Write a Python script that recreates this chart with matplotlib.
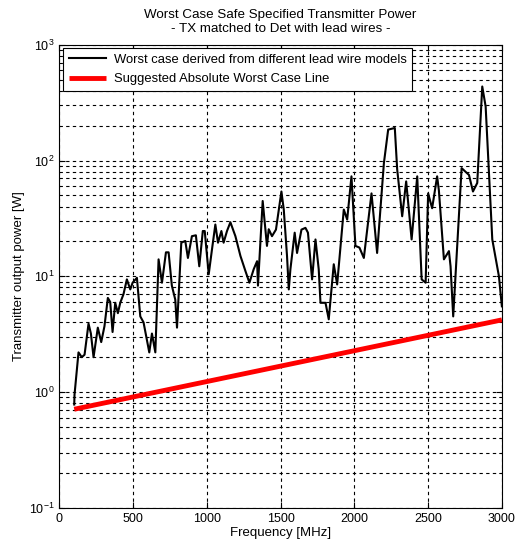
import matplotlib
matplotlib.use("Agg")
import matplotlib.pyplot as plt
from matplotlib.ticker import LogLocator, NullFormatter, MultipleLocator

plt.rcParams['font.family'] = ['Liberation Sans', 'DejaVu Sans']

# worst case envelope
freq = [100, 102, 129, 151, 170, 197, 213, 231, 260, 283, 305, 328, 344, 360, 378,
        396, 412, 434, 457, 480, 496, 525, 548, 570, 609, 627, 650, 672, 695, 722,
        740, 762, 785, 797, 826, 853, 871, 898, 925, 948, 972, 985, 1012, 1034, 1057,
        1075, 1098, 1113, 1136, 1159, 1193, 1227, 1261, 1288, 1317, 1340, 1346, 1378,
        1407, 1419, 1441, 1468, 1505, 1521, 1543, 1555, 1566, 1595, 1611, 1641, 1668,
        1685, 1713, 1736, 1758, 1770, 1804, 1826, 1860, 1883, 1928, 1951, 1980, 2007,
        2034, 2064, 2116, 2154, 2200, 2229, 2274, 2290, 2324, 2351, 2388, 2426, 2456,
        2483, 2500, 2527, 2561, 2573, 2607, 2641, 2652, 2670, 2727, 2777, 2804, 2833,
        2867, 2890, 2935, 2980, 3000]
power = [0.78, 0.95, 2.2, 2.0, 2.1, 3.9, 3.2, 2.0, 3.6, 2.7, 3.7, 6.5, 6.0, 3.3, 5.9,
         4.8, 5.9, 7.0, 9.4, 7.7, 8.8, 9.7, 4.5, 4.0, 2.2, 3.2, 2.2, 14.0, 8.8, 16.1,
         16.1, 8.3, 6.3, 3.6, 19.5, 20.2, 14.4, 22.2, 22.6, 12.2, 24.6, 24.6, 10.4, 17.0, 28.0,
         19.5, 24.6, 19.5, 24.6, 29.3, 22.2, 15.0, 11.1, 8.8, 11.5, 13.5, 8.3, 44.7,
         18.3, 25.5, 22.2, 25.3, 54.0, 37.7, 15.0, 7.7, 11.5, 23.8, 15.9, 25.3, 26.2,
         23.8, 9.4, 20.8, 11.5, 5.9, 5.9, 4.25, 12.7, 8.5, 37.7, 30.9, 73.0, 18.3,
         17.7, 14.4, 52.0, 15.9, 95.0, 185.0, 191.0, 84.0, 33.0, 66.0, 20.8, 73.0, 9.4,
         8.8, 52.0, 38.7, 73.0, 55.0, 14.0, 16.5, 12.2, 4.5, 86.0, 75.0, 54.0, 64.0,
         436.0, 293.0, 20.8, 10.0, 5.5]

# suggested absolute worst case line
line_freq = [100, 3000]
line_power = [0.71, 4.2]

fig = plt.figure(figsize=(5.15, 5.46), dpi=100)
ax = fig.add_axes([0.1155, 0.070, 0.859, 0.848])

ax.semilogy(freq, power, color='black', lw=1.5,
            label='Worst case derived from different lead wire models')
ax.semilogy(line_freq, line_power, color='red', lw=3.5, solid_capstyle='butt',
            label='Suggested Absolute Worst Case Line')

ax.set_xlim(0, 3000)
ax.set_ylim(1e-1, 1e3)
ax.xaxis.set_major_locator(MultipleLocator(500))
ax.yaxis.set_major_locator(LogLocator(base=10, numticks=10))
ax.yaxis.set_minor_locator(LogLocator(base=10, subs=range(2, 10), numticks=20))
ax.yaxis.set_minor_formatter(NullFormatter())

ax.grid(True, which='major', axis='both', color='black', ls=(0, (3, 3)), lw=0.8)
ax.grid(True, which='minor', axis='y', color='black', ls=(0, (3, 3)), lw=0.8)
ax.tick_params(which='both', direction='in', top=True, right=True, labelsize=9)
ax.tick_params(which='major', length=4)
ax.tick_params(which='minor', length=2)
for s in ax.spines.values():
    s.set_linewidth(0.8)

ax.set_xlabel('Frequency [MHz]', fontsize=9.5, labelpad=2)
ax.set_ylabel('Transmitter output power [W]', fontsize=9.5, labelpad=3)
ax.set_title('Worst Case Safe Specified Transmitter Power\n- TX matched to Det with lead wires -',
             fontsize=9.6, pad=9)

leg = ax.legend(loc='upper left', fontsize=9.4, fancybox=False, framealpha=1,
                edgecolor='black', borderaxespad=0.25, handlelength=2.9,
                handletextpad=0.55, borderpad=0.45, labelspacing=0.55)
leg.get_frame().set_linewidth(0.8)

fig.savefig('out.png', dpi=100)
